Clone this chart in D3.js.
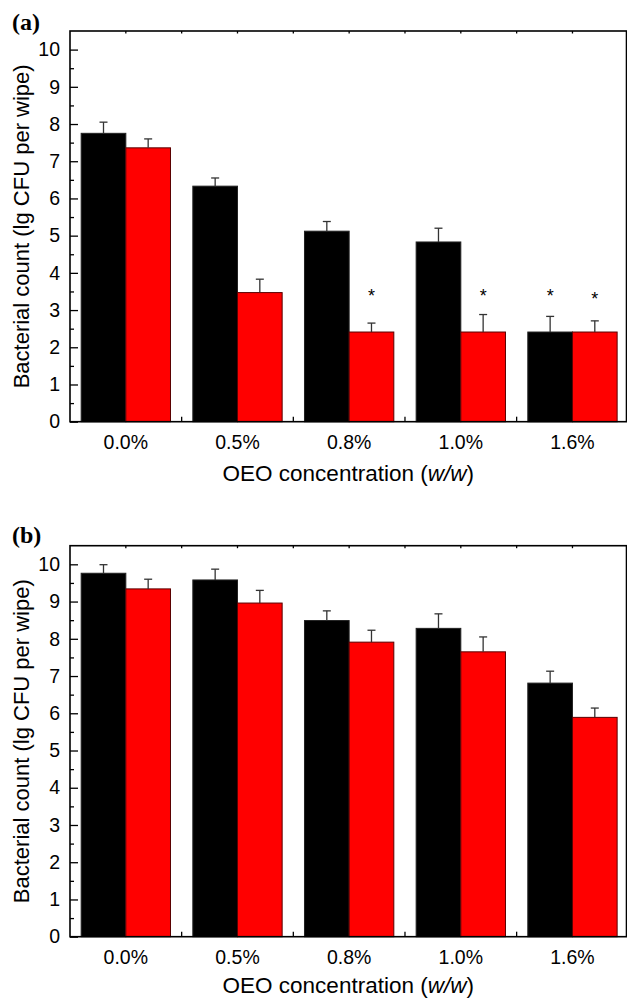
<!DOCTYPE html>
<html>
<head>
<meta charset="utf-8">
<script src="https://cdn.jsdelivr.net/npm/d3@7/dist/d3.min.js"></script>
<style>
  html, body { margin: 0; padding: 0; background: #fff; }
  svg { display: block; }
  text { font-family: "Liberation Sans", Arial, sans-serif; fill: #000; }
</style>
</head>
<body>
<svg id="chart" width="627" height="999"></svg>
<script>
// ---- data ----
const categories = ["0.0%", "0.5%", "0.8%", "1.0%", "1.6%"];
const seriesNames = ["Control", "OEO"];
const colors = ["#000000", "#ff0000"];

// Panel (a)
const aBlack = [7.75, 6.33, 5.12, 4.83, 2.41];
const aBlackErr = [0.30, 0.22, 0.26, 0.37, 0.42];
const aRed = [7.36, 3.47, 2.41, 2.41, 2.41];
const aRedErr = [0.24, 0.36, 0.24, 0.47, 0.30];
// significance marks (series index, category index, y position)
const aStars = [
  { s: 1, c: 2, y: 3.45 },
  { s: 1, c: 3, y: 3.45 },
  { s: 0, c: 4, y: 3.45 },
  { s: 1, c: 4, y: 3.38 }
];

// Panel (b)
const bBlack = [9.76, 9.58, 8.49, 8.28, 6.81];
const bBlackErr = [0.23, 0.29, 0.26, 0.39, 0.32];
const bRed = [9.34, 8.96, 7.91, 7.65, 5.89];
const bRedErr = [0.26, 0.34, 0.32, 0.40, 0.25];

const yTicks = [0, 1, 2, 3, 4, 5, 6, 7, 8, 9, 10];
const yMinorTicks = [0.5, 1.5, 2.5, 3.5, 4.5, 5.5, 6.5, 7.5, 8.5, 9.5];
const yDomain = [0, 10.5];
const xTitle = ["OEO concentration (", "w/w", ")"];
const yTitle = "Bacterial count (lg CFU per wipe)";

// ---- drawing ----
const svg = d3.select("#chart");

function panel(opts) {
  const { label, labelY, top, bottom, titleOffset, black, blackErr, red, redErr, stars } = opts;
  const left = 70, frameRight = 626.5, bandRight = 628.3;
  const g = svg.append("g");

  const x = d3.scaleBand().domain(categories).range([left, bandRight]).paddingInner(0).paddingOuter(0);
  const sub = d3.scaleBand().domain([0, 1]).range([0, x.bandwidth() * 0.8]);
  const y = d3.scaleLinear().domain(yDomain).range([bottom, top]);
  const groupOffset = x.bandwidth() * 0.1;

  const data = [];
  categories.forEach((c, i) => {
    data.push({ c, s: 0, v: black[i], e: blackErr[i] });
    data.push({ c, s: 1, v: red[i], e: redErr[i] });
  });

  // bars
  g.selectAll("rect.bar").data(data).enter().append("rect")
    .attr("class", "bar")
    .attr("x", d => x(d.c) + groupOffset + sub(d.s))
    .attr("y", d => y(d.v))
    .attr("width", sub.bandwidth())
    .attr("height", d => y(0) - y(d.v))
    .attr("fill", d => colors[d.s])
    .attr("stroke", d => d.s === 0 ? "#222" : "#5a0000")
    .attr("stroke-width", 1);

  // error bars (upper only)
  const eb = g.selectAll("g.err").data(data).enter().append("g").attr("class", "err");
  const cx = d => x(d.c) + groupOffset + sub(d.s) + sub.bandwidth() / 2;
  eb.append("line")
    .attr("x1", cx).attr("x2", cx)
    .attr("y1", d => y(d.v)).attr("y2", d => y(d.v + d.e))
    .attr("stroke", "#333").attr("stroke-width", 1.3);
  eb.append("line")
    .attr("x1", d => cx(d) - 4).attr("x2", d => cx(d) + 4)
    .attr("y1", d => y(d.v + d.e)).attr("y2", d => y(d.v + d.e))
    .attr("stroke", "#333").attr("stroke-width", 1.3);

  // stars
  if (stars) {
    g.selectAll("text.star").data(stars).enter().append("text")
      .attr("class", "star")
      .attr("x", d => x(categories[d.c]) + groupOffset + sub(d.s) + sub.bandwidth() / 2)
      .attr("y", d => y(d.y) + 9)
      .attr("text-anchor", "middle")
      .style("font-size", "18px")
      .text("*");
  }

  // frame
  g.append("rect")
    .attr("x", left).attr("y", top)
    .attr("width", frameRight - left).attr("height", bottom - top)
    .attr("fill", "none").attr("stroke", "#000").attr("stroke-width", 1.6);

  // y axis (inward ticks)
  const yAxis = d3.axisLeft(y).tickValues(yTicks).tickSize(-8).tickPadding(10).tickFormat(d3.format("d"));
  const ya = g.append("g").attr("transform", `translate(${left},0)`).call(yAxis);
  ya.select(".domain").remove();
  ya.selectAll(".tick line").attr("stroke", "#000").attr("stroke-width", 1.3);
  ya.selectAll(".tick text").style("font-size", "19.5px").style("font-family", "Liberation Sans, Arial, sans-serif").attr("fill", "#000");
  const yMinor = d3.axisLeft(y).tickValues(yMinorTicks).tickSize(-4).tickFormat("");
  const ym = g.append("g").attr("transform", `translate(${left},0)`).call(yMinor);
  ym.select(".domain").remove();
  ym.selectAll(".tick line").attr("stroke", "#000").attr("stroke-width", 1.3);

  // x axis: labels at centres, inward ticks at band boundaries
  const xAxis = d3.axisBottom(x).tickSize(0).tickPadding(13);
  const xa = g.append("g").attr("transform", `translate(0,${bottom})`).call(xAxis);
  xa.select(".domain").remove();
  xa.selectAll(".tick text").style("font-size", "19.5px").style("font-family", "Liberation Sans, Arial, sans-serif").attr("fill", "#000");
  const boundaries = categories.slice(1).map(c => x(c));
  g.selectAll("line.xb").data(boundaries).enter().append("line")
    .attr("x1", d => d).attr("x2", d => d)
    .attr("y1", bottom).attr("y2", bottom - 5)
    .attr("stroke", "#000").attr("stroke-width", 1.3);
  // top frame ticks at centres and boundaries
  const topTicks = categories.map(c => x(c) + x.bandwidth() / 2).concat(boundaries);
  g.selectAll("line.xt").data(topTicks).enter().append("line")
    .attr("x1", d => d).attr("x2", d => d)
    .attr("y1", top).attr("y2", top + 2.5)
    .attr("stroke", "#000").attr("stroke-width", 1.3);

  // x title
  const xt = g.append("text")
    .attr("x", (left + frameRight) / 2).attr("y", bottom + titleOffset)
    .attr("text-anchor", "middle").style("font-size", "22.5px");
  xt.append("tspan").text(xTitle[0]);
  xt.append("tspan").style("font-style", "italic").text(xTitle[1]);
  xt.append("tspan").text(xTitle[2]);

  // y title
  g.append("text")
    .attr("transform", `translate(29,${(top + bottom) / 2}) rotate(-90)`)
    .attr("text-anchor", "middle").style("font-size", "22px")
    .text(yTitle);

  // panel label
  g.append("text")
    .attr("x", 12).attr("y", labelY)
    .style("font-family", "Liberation Serif, Times New Roman, serif")
    .style("font-weight", "bold").style("font-size", "24px")
    .text(label);
}

panel({ label: "(a)", labelY: 30, top: 31, bottom: 421.7, titleOffset: 59, black: aBlack, blackErr: aBlackErr, red: aRed, redErr: aRedErr, stars: aStars });
panel({ label: "(b)", labelY: 543, top: 545.7, bottom: 936.7, titleOffset: 56.5, black: bBlack, blackErr: bBlackErr, red: bRed, redErr: bRedErr, stars: null });
</script>
</body>
</html>
